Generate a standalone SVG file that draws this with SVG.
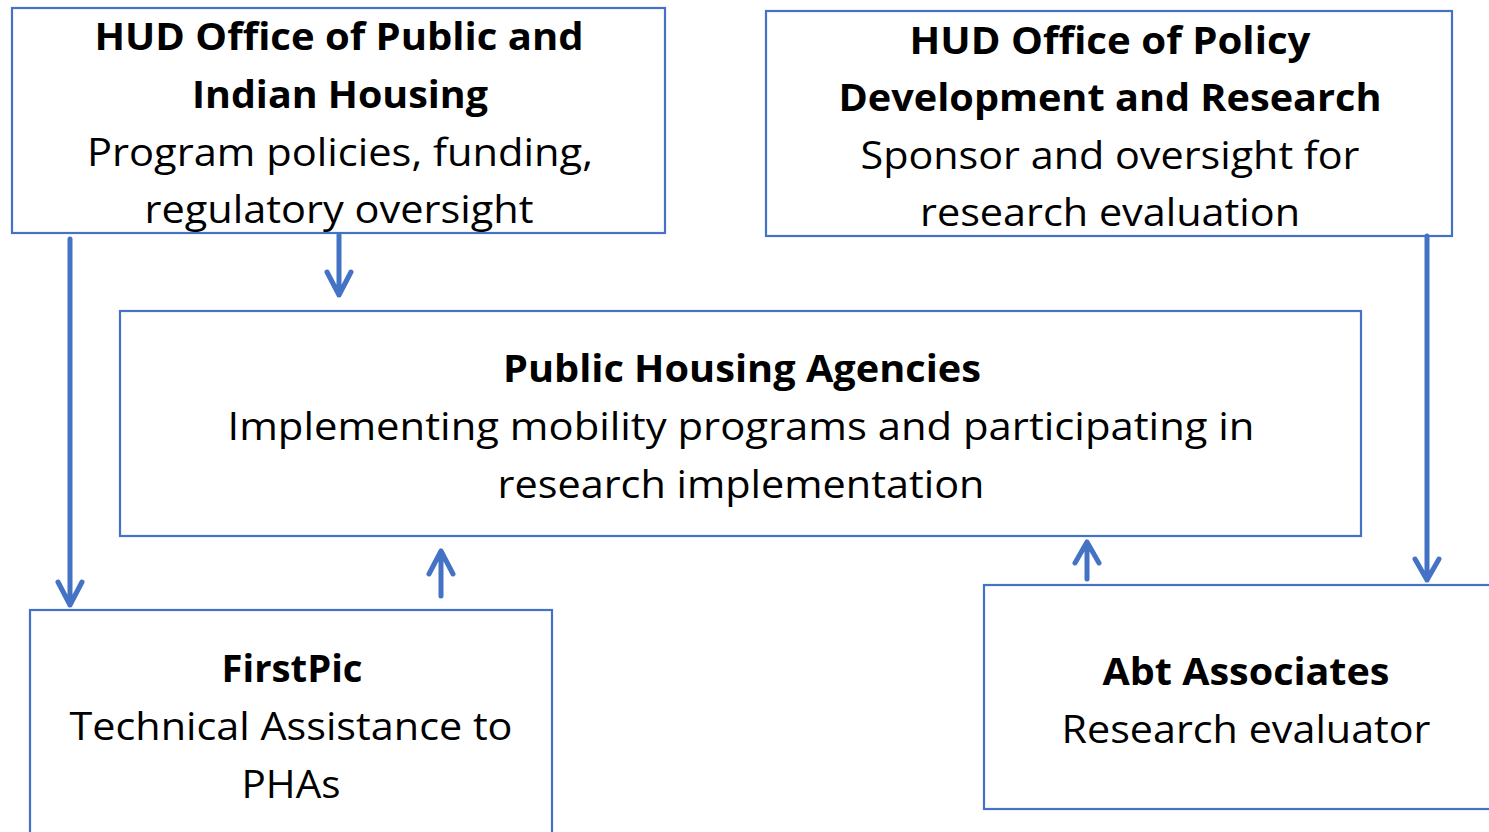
<svg xmlns="http://www.w3.org/2000/svg" width="1489" height="832" viewBox="0 0 1489 832">
  <style>
    .box { fill: #ffffff; stroke: #4472C4; stroke-width: 2.2; }
    .t { font-family: "Open Sans", Lato, sans-serif; font-size: 38px; fill: #000000; text-anchor: middle; }
    .b { font-weight: bold; }
    .conn { fill: none; stroke: #4472C4; stroke-width: 5; stroke-linecap: round; stroke-linejoin: round; }
  </style>
  <rect width="1489" height="832" fill="#ffffff"/>

  <g id="hud-pih">
    <rect class="box" x="12" y="8" width="653" height="225"/>
    <text class="t b" x="339" y="50" textLength="489" lengthAdjust="spacingAndGlyphs">HUD Office of Public and</text>
    <text class="t b" x="340" y="108" textLength="296" lengthAdjust="spacingAndGlyphs">Indian Housing</text>
    <text class="t" x="340" y="166" textLength="506" lengthAdjust="spacingAndGlyphs">Program policies, funding,</text>
    <text class="t" x="339" y="223" textLength="389" lengthAdjust="spacingAndGlyphs">regulatory oversight</text>
  </g>

  <g id="hud-pdr">
    <rect class="box" x="766" y="11" width="686" height="225"/>
    <text class="t b" x="1110" y="54" textLength="401" lengthAdjust="spacingAndGlyphs">HUD Office of Policy</text>
    <text class="t b" x="1110" y="111" textLength="543" lengthAdjust="spacingAndGlyphs">Development and Research</text>
    <text class="t" x="1110" y="169" textLength="499" lengthAdjust="spacingAndGlyphs">Sponsor and oversight for</text>
    <text class="t" x="1110" y="226" textLength="380" lengthAdjust="spacingAndGlyphs">research evaluation</text>
  </g>

  <g id="pha">
    <rect class="box" x="120" y="311" width="1241" height="225"/>
    <text class="t b" x="742" y="382" textLength="478" lengthAdjust="spacingAndGlyphs">Public Housing Agencies</text>
    <text class="t" x="741" y="440" textLength="1027" lengthAdjust="spacingAndGlyphs">Implementing mobility programs and participating in</text>
    <text class="t" x="741" y="498" textLength="487" lengthAdjust="spacingAndGlyphs">research implementation</text>
  </g>

  <g id="firstpic">
    <rect class="box" x="30" y="610" width="522" height="240"/>
    <text class="t b" x="292" y="682" textLength="141" lengthAdjust="spacingAndGlyphs">FirstPic</text>
    <text class="t" x="291" y="740" textLength="443" lengthAdjust="spacingAndGlyphs">Technical Assistance to</text>
    <text class="t" x="291" y="798" textLength="99" lengthAdjust="spacingAndGlyphs">PHAs</text>
  </g>

  <g id="abt">
    <rect class="box" x="984" y="585" width="530" height="224"/>
    <text class="t b" x="1246" y="685" textLength="287" lengthAdjust="spacingAndGlyphs">Abt Associates</text>
    <text class="t" x="1246" y="743" textLength="369" lengthAdjust="spacingAndGlyphs">Research evaluator</text>
  </g>

  <g id="connectors">
    <!-- PIH to FirstPic -->
    <path class="conn" d="M70 239 V605 M58 582 L70 605 L82 582"/>
    <!-- PIH to PHAs -->
    <path class="conn" d="M339 235 V295 M327 272 L339 295 L351 272"/>
    <!-- FirstPic to PHAs -->
    <path class="conn" d="M441 596 V551 M429 574 L441 551 L453 574"/>
    <!-- Abt to PHAs -->
    <path class="conn" d="M1087 579 V542 M1075 563 L1087 542 L1099 563"/>
    <!-- PDR to Abt -->
    <path class="conn" d="M1427 236 V580 M1415 559 L1427 580 L1439 559"/>
  </g>
</svg>
